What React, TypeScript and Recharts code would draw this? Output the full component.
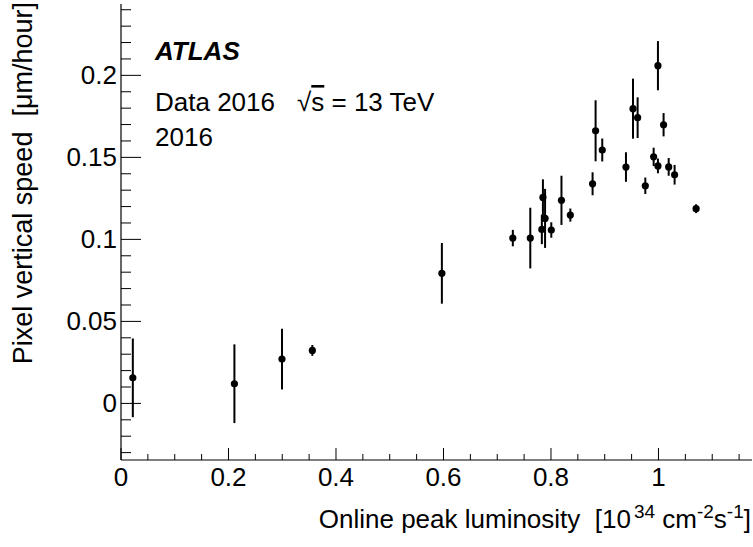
import { ScatterChart, Scatter, XAxis, YAxis, ErrorBar } from 'recharts'

// online peak luminosity [10^34 cm^-2 s^-1]
const lumi = [
  0.022, 0.211, 0.2995, 0.356, 0.597, 0.729, 0.7615, 0.783, 0.785, 0.789, 0.8006, 0.8195, 0.836, 0.8774,
  0.883, 0.8954, 0.9395, 0.9526, 0.9612, 0.9755, 0.991, 0.999, 0.999, 1.0095, 1.019, 1.03, 1.07,
]
// pixel vertical speed [um/hour]
const speed = [
  0.0156, 0.012, 0.027, 0.0323, 0.0793, 0.1008, 0.1008, 0.1061, 0.1256, 0.1128, 0.1057, 0.1238, 0.1148, 0.1339,
  0.1662, 0.1545, 0.1441, 0.1797, 0.1742, 0.1327, 0.1503, 0.2059, 0.1448, 0.1699, 0.1442, 0.1394, 0.1187,
]
const speedErr = [
  0.024, 0.024, 0.0185, 0.0033, 0.0185, 0.005, 0.0185, 0.009, 0.011, 0.018, 0.0047, 0.015, 0.004, 0.007,
  0.0186, 0.007, 0.009, 0.0183, 0.0124, 0.005, 0.0056, 0.015, 0.0045, 0.0071, 0.0054, 0.006, 0.0027,
]

const xMajorTicks = [0, 0.2, 0.4, 0.6, 0.8, 1]
const yMajorTicks = [0, 0.05, 0.1, 0.15, 0.2]
const xDomain: [number, number] = [0, 1.174]
const yDomain: [number, number] = [-0.0345, 0.2435]

const FONT = '"Liberation Sans", Arial, Helvetica, sans-serif'

// minor ticks: 4 per major division on x, 5 per division on y
const minorTicks = (step: number, lo: number, hi: number) => {
  const out: number[] = []
  for (let i = Math.ceil(lo / step - 1e-9); i * step <= hi + 1e-9; i++) out.push(+(i * step).toFixed(4))
  return out
}
const xTicks = minorTicks(0.05, xDomain[0], xDomain[1])
const yTicks = minorTicks(0.01, yDomain[0], yDomain[1])

const isMajor = (v: number, majors: number[]) => majors.some(m => Math.abs(m - v) < 1e-6)

const data = lumi.map((x, i) => ({ x, y: speed[i], err: speedErr[i] }))

const makeXTick = (side: 'bottom' | 'top') => (props: any) => {
  const { x, y, payload } = props
  const major = isMajor(payload.value, xMajorTicks)
  const len = major ? 12 : 6
  const dir = side === 'bottom' ? -1 : 1
  return (
    <g>
      <line x1={x} x2={x} y1={y} y2={y + dir * len} stroke="#000" strokeWidth={1} />
      {side === 'bottom' && major && (
        <text x={x} y={y + 26} textAnchor="middle" fontSize={26} fontFamily={FONT} fill="#000">
          {String(payload.value)}
        </text>
      )}
    </g>
  )
}

const makeYTick = (side: 'left' | 'right') => (props: any) => {
  const { x, y, payload } = props
  const major = isMajor(payload.value, yMajorTicks)
  const len = major ? 20 : 10
  const dir = side === 'left' ? 1 : -1
  return (
    <g>
      <line x1={x} x2={x + dir * len} y1={y} y2={y} stroke="#000" strokeWidth={1} />
      {side === 'left' && major && (
        <text x={x - 4} y={y + 9} textAnchor="end" fontSize={26} fontFamily={FONT} fill="#000">
          {String(payload.value)}
        </text>
      )}
    </g>
  )
}

const Dot = (props: any) => <circle cx={props.cx} cy={props.cy} r={3.6} fill="#000" />

export default function App() {
  return (
    <div style={{ width: 753, height: 547, background: '#fff' }}>
      <style>{'body{margin:0}'}</style>
      <ScatterChart width={753} height={547} margin={{ top: 4, right: 1, bottom: 0, left: 0 }}>
        <XAxis
          xAxisId="b"
          type="number"
          dataKey="x"
          domain={xDomain}
          allowDataOverflow
          ticks={xTicks}
          interval={0}
          height={87}
          tickSize={0}
          tickMargin={0}
          tickLine={false}
          axisLine={{ stroke: '#000', strokeWidth: 1.2 }}
          tick={makeXTick('bottom')}
        />
        <XAxis
          xAxisId="t"
          orientation="top"
          type="number"
          domain={xDomain}
          allowDataOverflow
          ticks={xTicks}
          interval={0}
          height={0}
          tickSize={0}
          tickMargin={0}
          tickLine={false}
          axisLine={{ stroke: '#000', strokeWidth: 1.2 }}
          tick={makeXTick('top')}
        />
        <YAxis
          yAxisId="l"
          type="number"
          dataKey="y"
          domain={yDomain}
          allowDataOverflow
          ticks={yTicks}
          interval={0}
          width={121}
          tickSize={0}
          tickMargin={0}
          tickLine={false}
          axisLine={{ stroke: '#000', strokeWidth: 1.2 }}
          tick={makeYTick('left')}
        />
        <YAxis
          yAxisId="r"
          orientation="right"
          type="number"
          domain={yDomain}
          allowDataOverflow
          ticks={yTicks}
          interval={0}
          width={0}
          tickSize={0}
          tickMargin={0}
          tickLine={false}
          axisLine={{ stroke: '#000', strokeWidth: 1.2 }}
          tick={makeYTick('right')}
        />
        <Scatter xAxisId="b" yAxisId="l" data={data} shape={Dot} isAnimationActive={false}>
          <ErrorBar dataKey="err" direction="y" width={0} stroke="#000" strokeWidth={2} isAnimationActive={false} />
        </Scatter>

        <text x={155} y={60} fontSize={26} fontWeight="bold" fontStyle="italic" fontFamily={FONT} fill="#000">
          ATLAS
        </text>
        <text x={155} y={111} fontSize={26} fontFamily={FONT} fill="#000">
          Data 2016
        </text>
        <text x={297} y={111} fontSize={26} fontFamily={FONT} fill="#000">
          √<tspan textDecoration="overline">s</tspan> = 13 TeV
        </text>
        <text x={155} y={146} fontSize={26} fontFamily={FONT} fill="#000">
          2016
        </text>
        <text
          x={751}
          y={528}
          textAnchor="end"
          fontSize={26}
          fontFamily={FONT}
          fill="#000"
          style={{ whiteSpace: 'pre' }}
        >
          {'Online peak luminosity  [10'}
          <tspan dx={3} dy={-10} fontSize={19}>34</tspan>
          <tspan dy={10}>{' cm'}</tspan>
          <tspan dy={-10} fontSize={19}>-2</tspan>
          <tspan dy={10}>s</tspan>
          <tspan dy={-10} fontSize={19}>-1</tspan>
          <tspan dy={10}>]</tspan>
        </text>
        <text
          x={32}
          y={2}
          transform="rotate(-90 32 2)"
          textAnchor="end"
          fontSize={27}
          fontFamily={FONT}
          fill="#000"
          style={{ whiteSpace: 'pre' }}
        >
          {'Pixel vertical speed  [μm/hour]'}
        </text>
      </ScatterChart>
    </div>
  )
}
